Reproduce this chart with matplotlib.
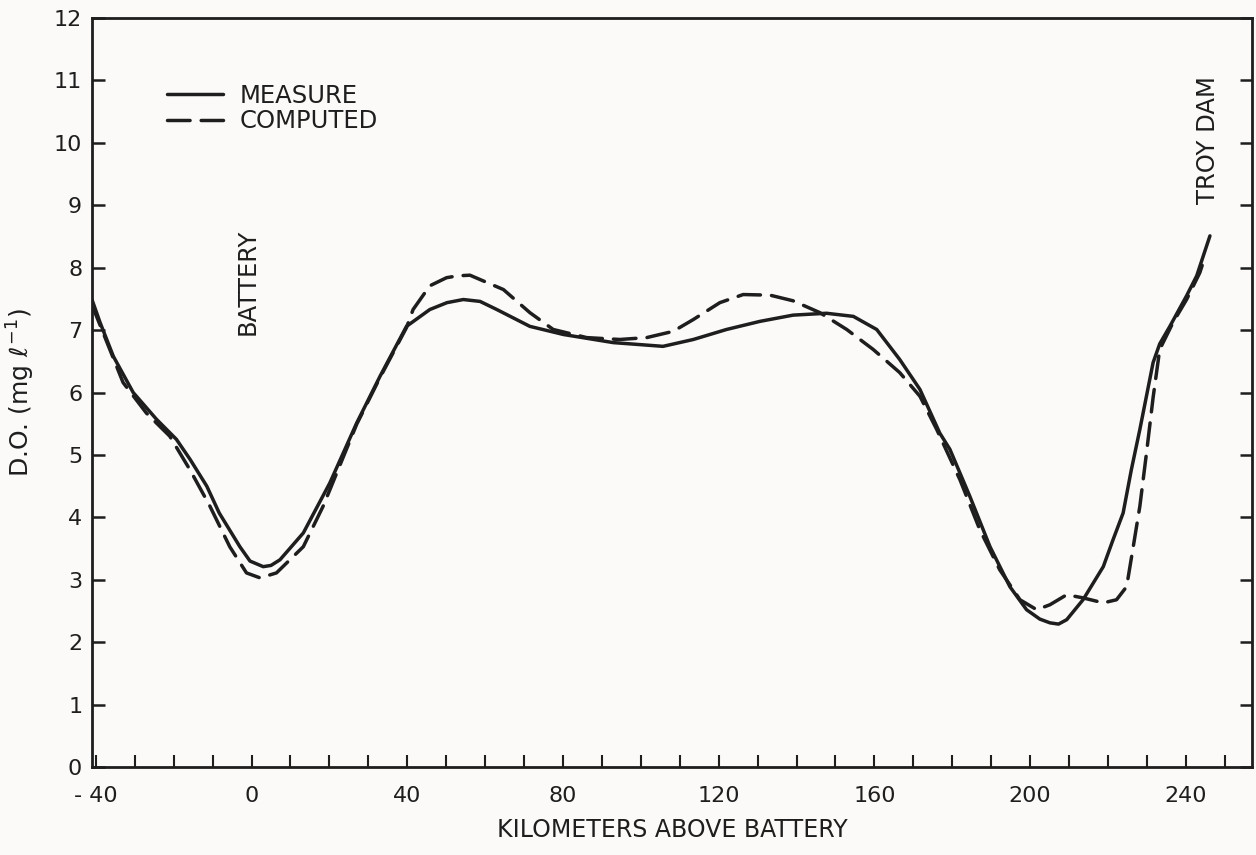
import matplotlib
matplotlib.use("Agg")
import matplotlib.pyplot as plt
from matplotlib.ticker import MultipleLocator

# distance above the Battery (km) and dissolved oxygen (mg/l)
measured_km = [-41.0, -38.9, -35.5, -30.4, -24.4, -19.3, -15.8, -11.5, -8.3, -3.0,
               -0.4, 3.0, 5.0, 7.3, 13.3, 20.1, 27.0, 33.0, 39.8, 45.8,
               50.2, 54.4, 58.7, 63.0, 71.5, 80.1, 92.9, 105.7, 113.5, 122.0,
               130.6, 139.1, 147.7, 154.6, 160.6, 166.5, 171.7, 176.8, 179.4, 184.5,
               189.7, 194.8, 199.1, 202.5, 205.1, 207.3, 209.4, 213.6, 218.8, 221.3,
               223.9, 226.0, 228.2, 231.6, 233.3, 235.9, 240.2, 242.8, 246.2]
measured_do = [7.49, 7.12, 6.58, 6.00, 5.57, 5.25, 4.93, 4.50, 4.07, 3.53,
               3.30, 3.21, 3.23, 3.32, 3.75, 4.55, 5.51, 6.26, 7.06, 7.33,
               7.44, 7.49, 7.46, 7.33, 7.06, 6.93, 6.80, 6.74, 6.85, 7.01,
               7.14, 7.24, 7.27, 7.22, 7.01, 6.53, 6.05, 5.35, 5.09, 4.34,
               3.53, 2.89, 2.52, 2.37, 2.31, 2.29, 2.36, 2.68, 3.21, 3.64,
               4.07, 4.76, 5.41, 6.48, 6.78, 7.06, 7.55, 7.87, 8.51]

computed_km = [-41.0, -40.2, -33.0, -27.0, -21.0, -15.8, -10.7, -5.6, -1.3, 2.2,
               6.4, 13.3, 18.4, 27.0, 33.0, 39.8, 41.5, 45.8, 50.1, 53.0,
               56.1, 64.7, 71.5, 77.5, 86.1, 94.6, 101.5, 108.3, 113.5, 120.3,
               126.3, 133.2, 139.1, 146.0, 152.9, 159.7, 166.5, 171.7, 176.0, 182.0,
               187.1, 192.2, 197.4, 201.7, 205.1, 209.4, 213.6, 218.8, 222.2, 224.8,
               226.5, 228.2, 229.9, 231.6, 233.3, 236.7, 240.2, 243.6, 244.9]
computed_do = [7.41, 7.28, 6.16, 5.67, 5.30, 4.76, 4.18, 3.53, 3.11, 3.03,
               3.11, 3.53, 4.18, 5.49, 6.24, 7.04, 7.33, 7.71, 7.84, 7.87,
               7.88, 7.65, 7.28, 7.01, 6.88, 6.85, 6.88, 6.98, 7.17, 7.44,
               7.57, 7.56, 7.47, 7.28, 7.01, 6.69, 6.32, 5.94, 5.41, 4.60,
               3.80, 3.16, 2.68, 2.52, 2.60, 2.76, 2.71, 2.63, 2.68, 2.89,
               3.53, 4.18, 5.03, 5.92, 6.69, 7.12, 7.49, 7.92, 8.17]

x_ticks = [-40, 0, 40, 80, 120, 160, 200, 240]
y_ticks = list(range(0, 13))

ink = "#1e1e1e"
paper = "#fcfaf9"

fig = plt.figure(figsize=(12.56, 8.55), dpi=100, facecolor=paper)
ax = fig.add_axes([0.0732, 0.1029, 0.9236, 0.876], facecolor=paper)

ax.plot(measured_km, measured_do, color=ink, lw=2.5, label="MEASURE",
        solid_capstyle="round", solid_joinstyle="round")
ax.plot(computed_km, computed_do, color=ink, lw=2.5, dashes=(6.5, 3.2),
        label="COMPUTED", dash_capstyle="round", dash_joinstyle="round")

ax.set_xlim(-41, 257)
ax.set_ylim(0, 12)
ax.set_xticks(x_ticks)
ax.set_xticklabels([str(v).replace("-", "- ") if v < 0 else str(v) for v in x_ticks])
ax.xaxis.set_minor_locator(MultipleLocator(10))
ax.set_yticks(y_ticks)

ax.tick_params(axis="x", which="both", direction="in", length=9, width=1.5,
               colors=ink, labelsize=16, pad=14, top=False)
ax.tick_params(axis="y", which="both", direction="in", length=9, width=1.8,
               colors=ink, labelsize=16, pad=7, right=True)
for s in ax.spines.values():
    s.set_linewidth(2)
    s.set_color(ink)

ax.set_xlabel("KILOMETERS ABOVE BATTERY", fontsize=17, color=ink, labelpad=8)
ax.set_ylabel(r"D.O. (mg $\ell^{-1}$)", fontsize=18, color=ink, labelpad=12)

ax.text(-0.9, 7.78, "BATTERY", rotation=90, ha="center", va="center",
        fontsize=17.5, color=ink)
ax.text(245.7, 10.04, "TROY DAM", rotation=90, ha="center", va="center",
        fontsize=17.5, color=ink)

leg = ax.legend(loc="upper left", bbox_to_anchor=(0.0647, 0.912), frameon=False,
                fontsize=17.5, handlelength=2.3, handletextpad=0.7,
                labelspacing=0.05, borderpad=0, borderaxespad=0)
for t in leg.get_texts():
    t.set_color(ink)

fig.savefig("out.png", dpi=100, facecolor=paper)
